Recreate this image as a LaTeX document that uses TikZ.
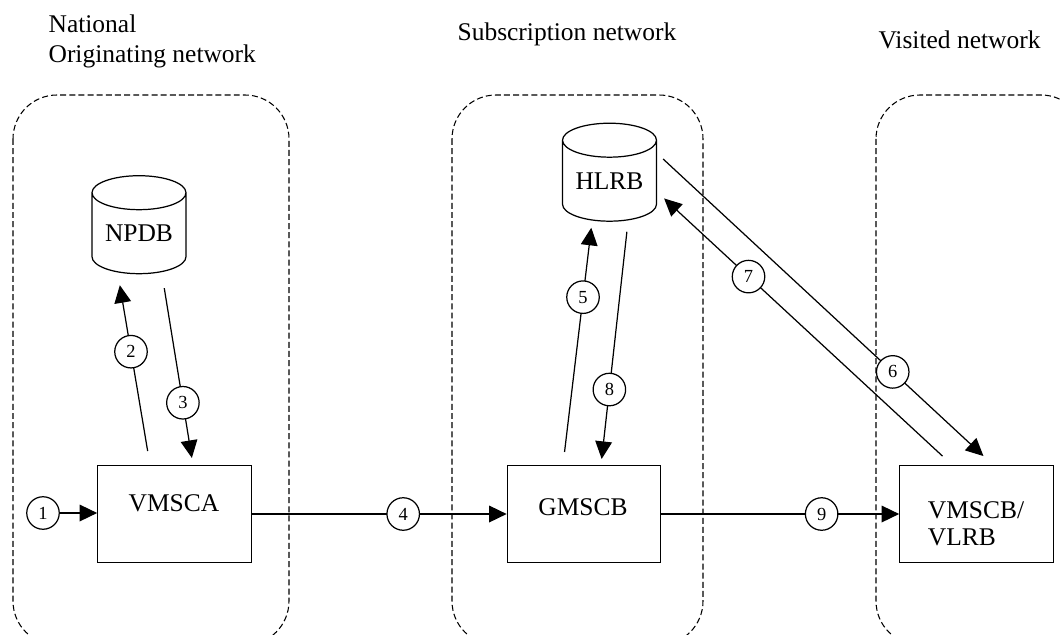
\documentclass[tikz,border=0pt]{standalone}
\usepackage{fontspec}
\setmainfont{Liberation Serif}
\usetikzlibrary{shapes.geometric,arrows.meta}
\tikzset{
  net/.style={draw, line width=0.6pt, dash pattern=on 3.4pt off 1.8pt, rounded corners=25pt},
  title/.style={anchor=west, inner sep=0pt, align=left, font=\fontsize{14.5}{17}\selectfont},
  box/.style={draw, rectangle, minimum width=3.07cm, minimum height=1.94cm},
  db/.style={draw, cylinder, shape border rotate=90, aspect=0.5, inner sep=0pt, minimum width=1.88cm, minimum height=1.96cm},
  num/.style={draw, circle, fill=white, inner sep=0pt, minimum size=18.5pt, font=\fontsize{10.5}{12}\selectfont},
  arr/.style={-{Triangle[length=10pt,width=9.5pt]}}
}
\begin{document}
\begin{tikzpicture}[x=0.02cm, y=-0.02cm, line width=0.7pt, font=\fontsize{14.5}{15.3}\selectfont]
\clip (0,0) rectangle (1061,635);

\path[net] (13,95) rectangle (289,645);
\path[net] (452,95) rectangle (703,645);
\path[net] (876,95) rectangle (1085,645);

\node[title] (orig) at (48,41) {National\\Originating network};
\node[title] (subs) at (457,34) {Subscription network};
\node[title] (visit) at (878,40) {Visited network};

\node[db] (npdb) at (139,233.5) {NPDB};
\node[db] (hlrb) at (609.5,181) {HLRB};

\node[box] (vmsca) at (174.5,514) {};
\node[box] (gmscb) at (584,514) {};
\node[box] (vmscb) at (976.5,514) {};
\node (vmscat) at (174,503) {VMSCA};
\node (gmscbt) at (583,507) {GMSCB};
\node[align=left] (vmscbt) at (976,524) {VMSCB/\\VLRB};

\node[num] (n1) at (43,513) {1};
\path[draw,arr] (n1) -- (vmsca.west |- n1);
\path[draw,arr,shorten <=8pt,shorten >=6.3pt] (150,0 |- vmsca.north) -- node[num,pos=0.594] (n2) {2} (118,0 |- npdb.south);
\path[draw,arr,shorten <=8pt,shorten >=4pt] (162,0 |- npdb.south) -- node[num,pos=0.674] (n3) {3} (193,0 |- vmsca.north);
\path[draw,arr] (vmsca.east) -- node[num,pos=0.594] (n4) {4} (gmscb.west);
\path[draw,arr,shorten <=7.4pt,shorten >=3.4pt] (563,0 |- gmscb.north) -- node[num,pos=0.69] (n5) {5} (592,0 |- hlrb.south);
\path[draw,arr,shorten >=7.4pt] ([shift={(6,-22)}]hlrb.east) -- node[num,pos=0.696] (n6) {6} (993,0 |- vmscb.north);
\path[draw,arr,shorten <=7.4pt,shorten >=5.4pt] (952,0 |- vmscb.north) -- node[num,pos=0.69] (n7) {7} ([shift={(0,11)}]hlrb.east);
\path[draw,arr,shorten <=5.7pt,shorten >=3.4pt] (628,0 |- hlrb.south) -- node[num,pos=0.69] (n8) {8} (601,0 |- gmscb.north);
\path[draw,arr] (gmscb.east) -- node[num,pos=0.674] (n9) {9} (vmscb.west);
\end{tikzpicture}
\end{document}
